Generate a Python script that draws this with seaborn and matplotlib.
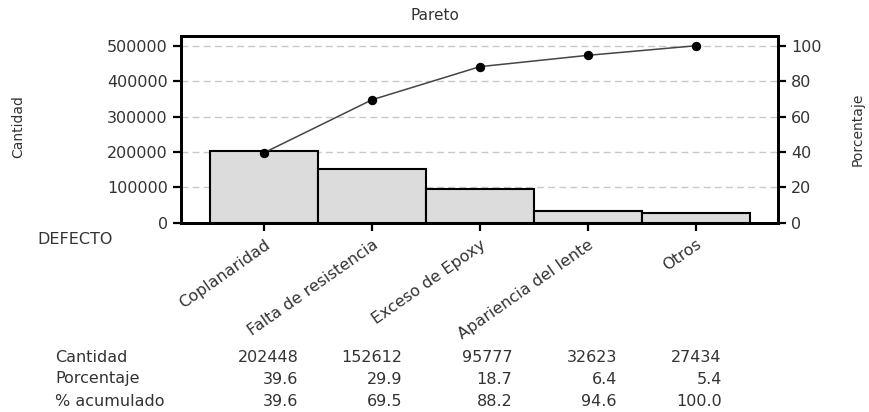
import matplotlib
matplotlib.use("Agg")
import matplotlib.pyplot as plt
import matplotlib.transforms as mtransforms
import numpy as np
import seaborn as sns

# Datos del diagrama de Pareto
defectos = ["Coplanaridad", "Falta de resistencia", "Exceso de Epoxy",
            "Apariencia del lente", "Otros"]
cantidad = [202448, 152612, 95777, 32623, 27434]
porcentaje = [39.6, 29.9, 18.7, 6.4, 5.4]
acumulado = [39.6, 69.5, 88.2, 94.6, 100.0]

left_ticks = [0, 100000, 200000, 300000, 400000, 500000]
right_ticks = [0, 20, 40, 60, 80, 100]

sns.set_style("ticks")
plt.rcParams['font.family'] = ['DejaVu Sans']
txt_color = '#333333'
fs = 11.5

fig = plt.figure(figsize=(8.7, 4.12), dpi=100)
ax = fig.add_axes([0.208, 0.459, 0.686, 0.454])

# Barras
sns.barplot(x=defectos, y=cantidad, ax=ax, color='#dcdcdc', saturation=1,
            width=1.0, edgecolor='black', linewidth=1.5)
ax.set_xlim(-0.77, 4.76)
ax.set_ylim(0, 528000)
ax.set_yticks(left_ticks)
ax.set_yticklabels([str(t) for t in left_ticks], fontsize=fs, color=txt_color)
ax.set_axisbelow(True)
ax.yaxis.grid(True, linestyle=(0, (5, 3)), color='#c8c8c8', linewidth=1)
ax.set_xlabel('')
ax.set_ylabel('')
ax.set_xticks(range(len(defectos)))
ax.set_xticklabels(defectos, rotation=35, ha='right', va='top',
                   rotation_mode='anchor', fontsize=fs, color=txt_color)
ax.tick_params(axis='both', width=1.6, length=6, color='black')
ax.tick_params(axis='x', pad=4)
for s in ax.spines.values():
    s.set_linewidth(2)
    s.set_color('black')

# Curva acumulada en el eje derecho
ax2 = ax.twinx()
sns.lineplot(x=np.arange(len(acumulado)), y=acumulado, ax=ax2, color='#444444',
             linewidth=1.1, marker='o', markersize=6, markerfacecolor='black',
             markeredgecolor='black')
ax2.set_ylim(0, 105.6)
ax2.set_yticks(right_ticks)
ax2.set_yticklabels([str(t) for t in right_ticks], fontsize=fs, color=txt_color)
ax2.set_ylabel('')
ax2.tick_params(axis='y', width=1.6, length=6, color='black')
ax2.set_xlim(-0.77, 4.76)
for s in ax2.spines.values():
    s.set_linewidth(2)
    s.set_color('black')

fig.text(18 / 870, 1 - 127 / 412, 'Cantidad', rotation=90, ha='center', va='center',
         fontsize=10, color=txt_color)
fig.text(858 / 870, 1 - 129 / 412, 'Porcentaje', rotation=90, ha='center', va='center',
         fontsize=10, color=txt_color)
fig.text(0.5, 0.962, 'Pareto', ha='center', va='center', fontsize=11, color=txt_color)
fig.text(0.043, 1 - 240 / 412, 'DEFECTO', ha='left', va='center', fontsize=fs, color=txt_color)

# Tabla inferior
trans = mtransforms.blended_transform_factory(ax.transData, fig.transFigure)
filas = [("Cantidad", [str(v) for v in cantidad]),
         ("Porcentaje", [f"{v:.1f}" for v in porcentaje]),
         ("% acumulado", [f"{v:.1f}" for v in acumulado])]
row_y = [357, 379, 402]
offsets = [0.32, 0.28, 0.3, 0.27, 0.24]
for (nombre, valores), yp in zip(filas, row_y):
    yf = 1 - yp / 412
    fig.text(55 / 870, yf, nombre, ha='left', va='center', fontsize=fs, color=txt_color)
    for i, v in enumerate(valores):
        ax.text(i + offsets[i], yf, v, transform=trans, ha='right', va='center',
                fontsize=fs, color=txt_color)

fig.savefig('out.png', dpi=100)
